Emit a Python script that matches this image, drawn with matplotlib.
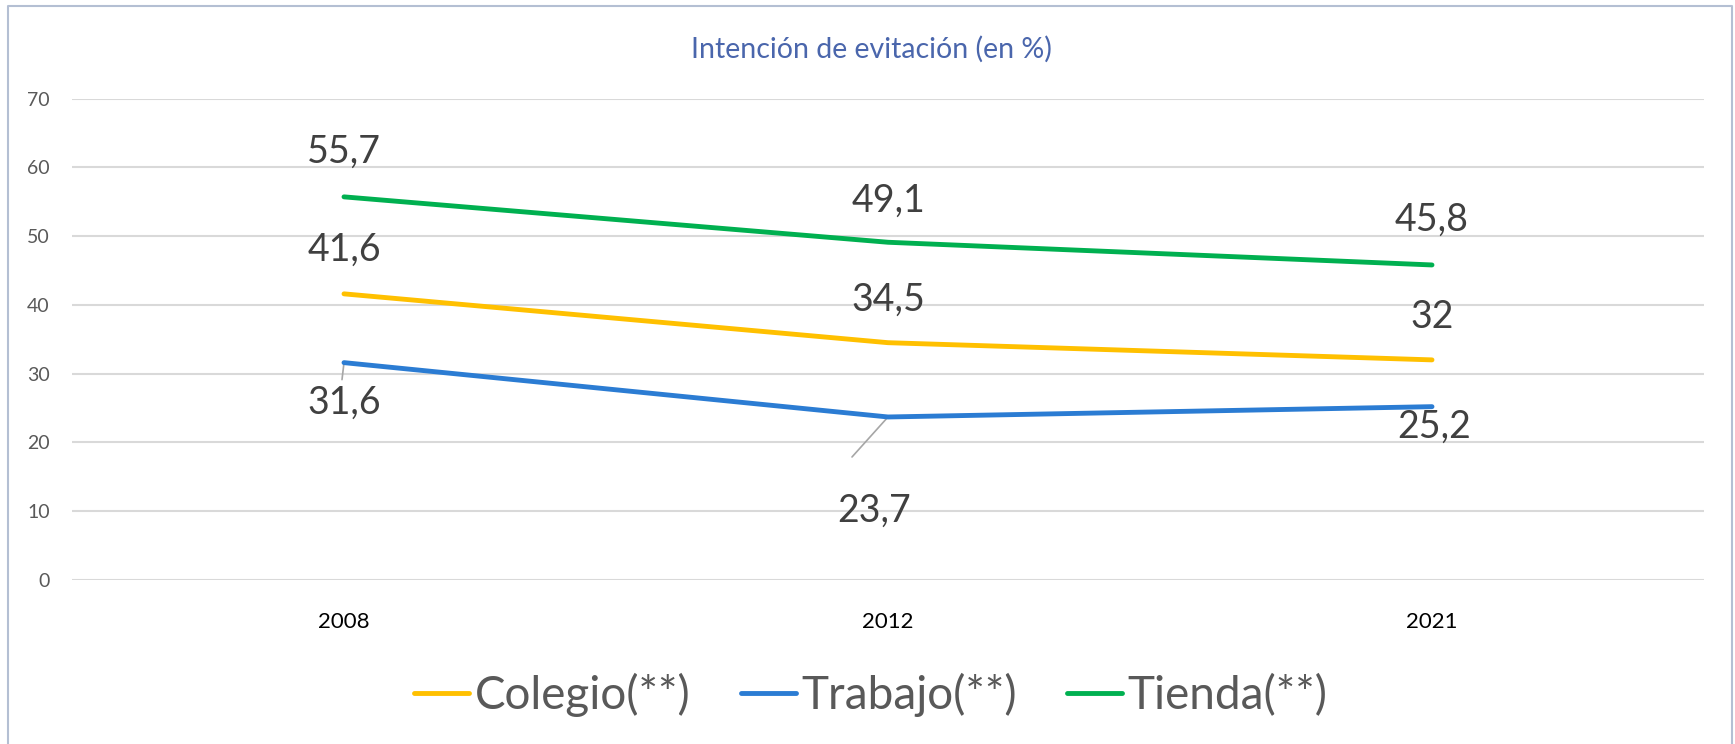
import matplotlib.pyplot as plt
from matplotlib.lines import Line2D
import numpy as np

plt.rcParams['font.family'] = ['Lato', 'DejaVu Sans']

years = ["2008", "2012", "2021"]
colegio = [41.6, 34.5, 32.0]
trabajo = [31.6, 23.7, 25.2]
tienda = [55.7, 49.1, 45.8]
series_names = ["Colegio(**)", "Trabajo(**)", "Tienda(**)"]
colors = ["#FFC000", "#2B7CD3", "#00B050"]

# label offsets (pixels from the point, x right / y up) as seen in the original
offsets = {
    "Colegio(**)": [(0, 44), (0, 43), (0, 43)],
    "Trabajo(**)": [(0, -40), (-14, -94), (2, -20)],
    "Tienda(**)": [(0, 45), (0, 42), (0, 45)],
}
# leader lines: series, index, end offset (pixels)
leaders = [("Trabajo(**)", 0, (-2, -17)), ("Trabajo(**)", 1, (-36, -40))]

W, H = 1735, 744
fig = plt.figure(figsize=(W / 100, H / 100), dpi=100)
ax = fig.add_axes([72 / W, 1 - 580 / H, (1704 - 72) / W, (580 - 98.5) / H])

x = np.arange(len(years))
px2pt = 0.72
data = dict(zip(series_names, [colegio, trabajo, tienda]))
for name, c in zip(series_names, colors):
    vals = data[name]
    ax.plot(x, vals, color=c, lw=3.5, solid_capstyle="round", solid_joinstyle="round", zorder=3)
    for xi, v, (dx, dy) in zip(x, vals, offsets[name]):
        lbl = f"{v:g}".replace(".", ",")
        ax.annotate(lbl, (xi, v), xytext=(dx * px2pt, dy * px2pt), textcoords="offset points",
                    ha="center", va="center", fontsize=27, color="#404040")

for name, i, (dx, dy) in leaders:
    ax.annotate("", (x[i], data[name][i]), xytext=(dx * px2pt, dy * px2pt),
                textcoords="offset points",
                arrowprops=dict(arrowstyle="-", color="#A6A6A6", lw=1.2, shrinkA=0, shrinkB=0),
                zorder=2)

ax.set_xlim(-0.5, 2.5)
ax.set_ylim(0, 70)
ax.set_yticks(range(0, 71, 10))
ax.set_xticks(x)
ax.set_xticklabels(years)
ax.grid(axis="y", color="#D9D9D9", lw=1.5)
ax.set_axisbelow(True)
for s in ax.spines.values():
    s.set_visible(False)
ax.tick_params(axis="y", length=0, pad=16, labelsize=14, labelcolor="#595959")
ax.tick_params(axis="x", length=0, pad=23, labelsize=16, labelcolor="#000000")

fig.text(0.502, 1 - 49 / H, "Intención de evitación (en %)", ha="center", va="center",
         fontsize=20.5, color="#4A66AC")

handles = [Line2D([], [], color=c, lw=3.5, solid_capstyle="round") for c in colors]
fig.legend(handles, series_names, loc="center", bbox_to_anchor=(0.502, 1 - 695 / H),
           ncol=3, frameon=False, fontsize=33, labelcolor="#595959",
           handlelength=1.2, handletextpad=0.12, columnspacing=1.1)

# chart area border
fig.add_artist(Line2D([8 / W, 8 / W, 1732 / W, 1732 / W], [0, 1 - 6 / H, 1 - 6 / H, 0],
                      transform=fig.transFigure, color="#B4BFD3", lw=1.5))

fig.savefig("out.png", dpi=100)
